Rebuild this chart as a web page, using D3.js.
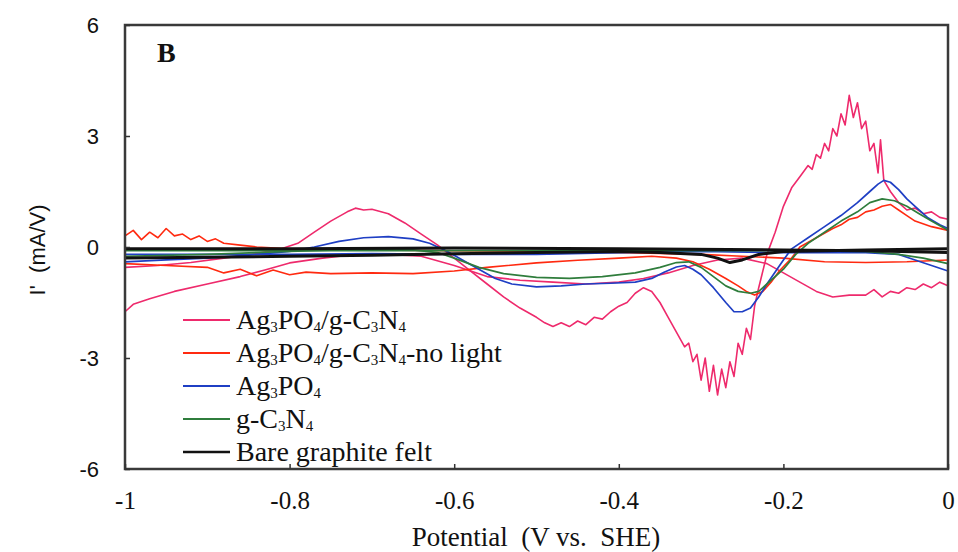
<!DOCTYPE html>
<html><head><meta charset="utf-8">
<script src="https://cdn.jsdelivr.net/npm/d3@7"></script>
<style>body{margin:0;background:#fff}svg{display:block}</style>
</head><body>
<svg id="c" width="958" height="552"></svg>
<script>
// ---- data (potential V, I' mA/V) ----
const xTicks = [-1, -0.8, -0.6, -0.4, -0.2, 0];
const yTicks = [-6, -3, 0, 3, 6];
const seriesNames = ["Ag3PO4/g-C3N4", "Ag3PO4/g-C3N4-no light", "Ag3PO4", "g-C3N4", "Bare graphite felt"];
const seriesColors = ["#ee2a6c", "#ff2a10", "#1f3fc4", "#2f7d3c", "#111111"];

const compLightA = [[-1.00,-0.55],[-0.96,-0.5],[-0.92,-0.42],[-0.88,-0.3],[-0.84,-0.18],[-0.81,-0.05],[-0.79,0.1],[-0.77,0.4],[-0.75,0.7],[-0.73,0.95],[-0.72,1.05],[-0.71,1.0],[-0.70,1.02],[-0.68,0.9],[-0.66,0.65],[-0.64,0.35],[-0.62,0.05],[-0.60,-0.3],[-0.58,-0.65],[-0.56,-1.0],[-0.54,-1.35],[-0.52,-1.65],[-0.50,-1.9],[-0.49,-2.05],[-0.48,-2.15],[-0.47,-2.05],[-0.46,-2.15],[-0.45,-2.0],[-0.44,-2.1],[-0.43,-1.9],[-0.42,-1.95],[-0.41,-1.75],[-0.40,-1.6],[-0.39,-1.5],[-0.38,-1.25],[-0.37,-1.1],[-0.36,-1.2],[-0.35,-1.5],[-0.34,-1.9],[-0.33,-2.3],[-0.32,-2.7],[-0.315,-2.6],[-0.31,-3.1],[-0.305,-2.9],[-0.30,-3.6],[-0.295,-3.0],[-0.29,-3.9],[-0.285,-3.2],[-0.28,-4.0],[-0.275,-3.3],[-0.27,-3.8],[-0.265,-3.1],[-0.26,-3.5],[-0.255,-2.6],[-0.25,-2.9],[-0.245,-2.2],[-0.24,-2.5],[-0.235,-1.6],[-0.23,-1.1],[-0.22,-0.2],[-0.21,0.4],[-0.20,1.1],[-0.19,1.6],[-0.18,1.9],[-0.17,2.2],[-0.165,2.1],[-0.16,2.5],[-0.155,2.4],[-0.15,2.8],[-0.145,2.6],[-0.14,3.2],[-0.135,3.0],[-0.13,3.6],[-0.125,3.3],[-0.12,4.1],[-0.115,3.5],[-0.11,3.9],[-0.105,3.2],[-0.10,3.4],[-0.095,2.6],[-0.09,2.8],[-0.085,2.0],[-0.082,2.9],[-0.078,1.8],[-0.07,1.5],[-0.06,1.2],[-0.05,1.0],[-0.04,1.05],[-0.03,0.9],[-0.02,0.95],[-0.01,0.8],[0,0.75]];
const compLightB = [[0,-1.05],[-0.01,-0.95],[-0.02,-1.1],[-0.03,-1.0],[-0.04,-1.15],[-0.05,-1.1],[-0.06,-1.25],[-0.07,-1.2],[-0.08,-1.35],[-0.09,-1.15],[-0.10,-1.3],[-0.12,-1.3],[-0.14,-1.35],[-0.16,-1.2],[-0.18,-0.95],[-0.20,-0.7],[-0.22,-0.45],[-0.25,-0.3],[-0.28,-0.35],[-0.31,-0.5],[-0.34,-0.7],[-0.37,-0.85],[-0.40,-0.95],[-0.44,-1.0],[-0.48,-0.95],[-0.52,-0.9],[-0.56,-0.8],[-0.60,-0.5],[-0.64,-0.25],[-0.68,-0.2],[-0.72,-0.2],[-0.76,-0.3],[-0.80,-0.43],[-0.83,-0.62],[-0.86,-0.8],[-0.90,-1.0],[-0.94,-1.2],[-0.97,-1.4],[-0.99,-1.55],[-1,-1.75]];

const compDarkA = [[-1,-0.45],[-0.95,-0.5],[-0.9,-0.55],[-0.88,-0.7],[-0.86,-0.6],[-0.84,-0.78],[-0.82,-0.62],[-0.8,-0.75],[-0.78,-0.68],[-0.75,-0.72],[-0.7,-0.7],[-0.65,-0.72],[-0.6,-0.65],[-0.56,-0.55],[-0.5,-0.43],[-0.45,-0.36],[-0.4,-0.3],[-0.36,-0.25],[-0.33,-0.3],[-0.31,-0.4],[-0.29,-0.6],[-0.27,-0.85],[-0.255,-1.05],[-0.245,-1.2],[-0.235,-1.3],[-0.225,-1.2],[-0.215,-0.95],[-0.205,-0.65],[-0.19,-0.3],[-0.18,0.0],[-0.16,0.25],[-0.14,0.5],[-0.13,0.6],[-0.12,0.75],[-0.11,0.8],[-0.10,0.95],[-0.09,1.0],[-0.08,1.1],[-0.07,1.15],[-0.06,1.0],[-0.05,0.85],[-0.04,0.7],[-0.02,0.55],[0,0.45]];
const compDarkB = [[0,-0.35],[-0.05,-0.4],[-0.1,-0.42],[-0.15,-0.4],[-0.2,-0.3],[-0.25,-0.25],[-0.3,-0.2],[-0.4,-0.15],[-0.5,-0.12],[-0.6,-0.1],[-0.7,-0.08],[-0.8,-0.05],[-0.84,0.0],[-0.86,0.05],[-0.88,0.1],[-0.89,0.22],[-0.90,0.15],[-0.91,0.3],[-0.92,0.2],[-0.93,0.35],[-0.94,0.3],[-0.95,0.5],[-0.96,0.25],[-0.97,0.4],[-0.98,0.2],[-0.99,0.45],[-1,0.3]];

const agA = [[-1,-0.4],[-0.95,-0.35],[-0.9,-0.3],[-0.85,-0.22],[-0.8,-0.12],[-0.77,0.0],[-0.74,0.15],[-0.71,0.25],[-0.68,0.28],[-0.65,0.22],[-0.63,0.1],[-0.61,-0.1],[-0.59,-0.35],[-0.57,-0.6],[-0.55,-0.85],[-0.53,-1.0],[-0.5,-1.08],[-0.47,-1.05],[-0.44,-1.0],[-0.41,-0.98],[-0.38,-0.95],[-0.36,-0.85],[-0.345,-0.68],[-0.33,-0.54],[-0.32,-0.5],[-0.31,-0.6],[-0.3,-0.75],[-0.285,-1.1],[-0.27,-1.5],[-0.26,-1.75],[-0.25,-1.75],[-0.24,-1.65],[-0.23,-1.35],[-0.22,-1.0],[-0.2,-0.35],[-0.19,-0.05],[-0.17,0.25],[-0.15,0.55],[-0.13,0.85],[-0.11,1.2],[-0.095,1.5],[-0.085,1.7],[-0.078,1.8],[-0.07,1.75],[-0.06,1.55],[-0.05,1.3],[-0.04,1.1],[-0.025,0.8],[-0.01,0.6],[0,0.5]];
const agB = [[0,-0.65],[-0.02,-0.5],[-0.04,-0.35],[-0.06,-0.2],[-0.1,-0.15],[-0.2,-0.15],[-0.3,-0.12],[-0.4,-0.15],[-0.5,-0.2],[-0.6,-0.2],[-0.7,-0.18],[-0.8,-0.2],[-0.9,-0.2],[-1,-0.2]];

const cnA = [[-1,-0.25],[-0.9,-0.2],[-0.8,-0.12],[-0.7,-0.05],[-0.65,-0.08],[-0.62,-0.15],[-0.6,-0.3],[-0.57,-0.55],[-0.54,-0.72],[-0.5,-0.82],[-0.46,-0.85],[-0.42,-0.8],[-0.38,-0.7],[-0.35,-0.55],[-0.33,-0.42],[-0.315,-0.4],[-0.3,-0.55],[-0.285,-0.8],[-0.27,-1.05],[-0.255,-1.2],[-0.24,-1.25],[-0.23,-1.2],[-0.22,-1.0],[-0.2,-0.6],[-0.185,-0.2],[-0.17,0.1],[-0.15,0.4],[-0.13,0.7],[-0.11,0.95],[-0.095,1.2],[-0.08,1.3],[-0.065,1.25],[-0.05,1.1],[-0.035,0.9],[-0.02,0.7],[0,0.45]];
const cnB = [[0,-0.45],[-0.03,-0.3],[-0.06,-0.2],[-0.1,-0.12],[-0.2,-0.1],[-0.3,-0.1],[-0.5,-0.1],[-0.7,-0.1],[-1,-0.1]];

const feltA = [[-1,-0.3],[-0.9,-0.28],[-0.8,-0.25],[-0.7,-0.22],[-0.6,-0.18],[-0.5,-0.15],[-0.4,-0.12],[-0.35,-0.15],[-0.3,-0.2],[-0.28,-0.3],[-0.265,-0.42],[-0.25,-0.35],[-0.23,-0.2],[-0.2,-0.12],[-0.1,-0.08],[0,-0.05]];
const feltB = [[0,-0.15],[-0.1,-0.1],[-0.2,-0.08],[-0.4,-0.05],[-0.6,-0.03],[-0.8,-0.05],[-1,-0.05]];

const seriesData = [[compLightA, compLightB],[compDarkA, compDarkB],[agA, agB],[cnA, cnB],[feltA, feltB]];

// ---- layout ----
const SERIF = "'Liberation Serif', 'Times New Roman', serif";
const SANS = "'Liberation Sans', Arial, sans-serif";
const svg = d3.select("#c");
const L = 125, R = 948, T = 25, B = 469;
const x = d3.scaleLinear().domain([-1, 0]).range([L, R]);
const y = d3.scaleLinear().domain([-6, 6]).range([B, T]);

const plot = svg.append("g");
const line = d3.line().x(d => x(d[0])).y(d => y(d[1]));
const widths = [1.6, 1.6, 1.7, 1.7, 3];
seriesData.forEach((branches, i) => {
  branches.forEach(b => {
    plot.append("path").attr("d", line(b)).attr("fill", "none")
      .attr("stroke", seriesColors[i]).attr("stroke-width", widths[i])
      .attr("stroke-linejoin", "round");
  });
});

// frame
svg.append("rect").attr("x", L).attr("y", T).attr("width", R - L).attr("height", B - T)
  .attr("fill", "none").attr("stroke", "#3a3a3a").attr("stroke-width", 2.5);

// axes
const xAxis = d3.axisBottom(x).tickValues(xTicks).tickSizeInner(-5).tickSizeOuter(0).tickPadding(22)
  .tickFormat(d => String(d));
const gx = svg.append("g").attr("transform", `translate(0,${B})`).call(xAxis);
gx.select(".domain").remove();
gx.selectAll("line").attr("stroke", "#333").attr("stroke-width", 1.5);
gx.selectAll("text").style("font-family", SERIF).style("font-size", "25px").attr("fill", "#111");

const yAxis = d3.axisLeft(y).tickValues(yTicks).tickSizeInner(-5).tickSizeOuter(0).tickPadding(26)
  .tickFormat(d => String(d));
const gy = svg.append("g").attr("transform", `translate(${L},0)`).call(yAxis);
gy.select(".domain").remove();
gy.selectAll("line").attr("stroke", "#333").attr("stroke-width", 1.5);
gy.selectAll("text").style("font-family", SANS).style("font-size", "22px").attr("fill", "#111");

// titles
svg.append("text").attr("x", 536).attr("y", 546).attr("text-anchor", "middle")
  .style("font-family", SERIF).style("font-size", "27px").attr("fill", "#111")
  .attr("xml:space", "preserve").text("Potential  (V vs.  SHE)");
svg.append("text").attr("transform", "translate(45,250) rotate(-90)").attr("text-anchor", "middle")
  .style("font-family", SANS).style("font-size", "22px").attr("fill", "#111")
  .attr("xml:space", "preserve").text("I'  (mA/V)");
svg.append("text").attr("x", 157).attr("y", 62).style("font-family", SERIF)
  .style("font-weight", "bold").style("font-size", "28px").attr("fill", "#111").text("B");

// legend
const rowY = [320, 353, 386, 419, 452];
seriesNames.forEach((name, i) => {
  svg.append("line").attr("x1", 183).attr("x2", 230).attr("y1", rowY[i]).attr("y2", rowY[i])
    .attr("stroke", seriesColors[i]).attr("stroke-width", i === 4 ? 2.5 : 1.8);
  const t = svg.append("text").attr("x", 236).attr("y", rowY[i] + 9)
    .style("font-family", SERIF).style("font-size", "28px").attr("fill", "#111");
  let prevSub = false;
  name.split(/(\d)/).filter(p => p.length).forEach(p => {
    const isSub = /^\d$/.test(p);
    t.append("tspan").style("font-size", isSub ? "15px" : "28px")
      .attr("dy", isSub ? 3 : (prevSub ? -3 : 0)).text(p);
    prevSub = isSub;
  });
});
</script>
</body></html>
